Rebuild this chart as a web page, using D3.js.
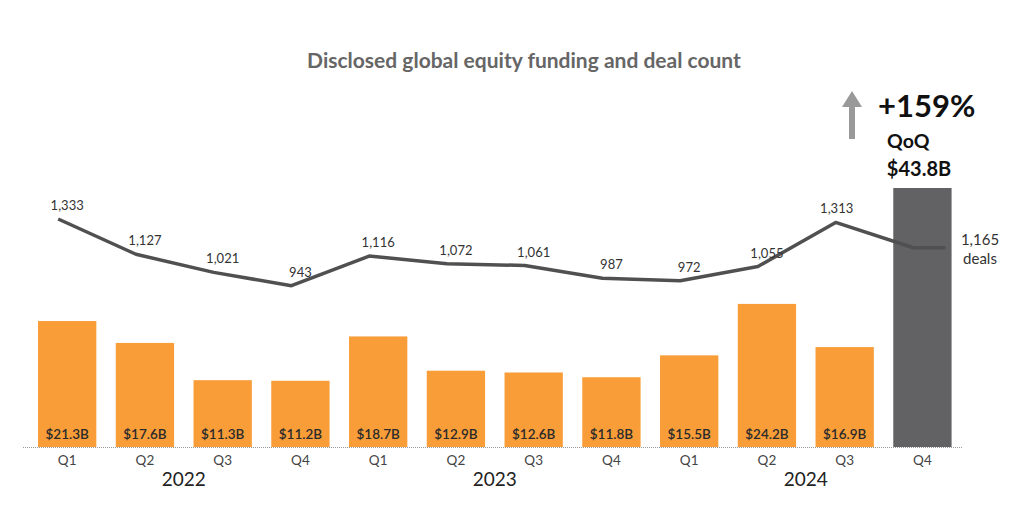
<!DOCTYPE html>
<html>
<head>
<meta charset="utf-8">
<script src="https://cdn.jsdelivr.net/npm/d3@7"></script>
<style>
  html, body { margin: 0; padding: 0; background: #fff; }
  svg { display: block; font-family: Lato, "Open Sans", sans-serif; }
</style>
</head>
<body>
<svg id="chart" width="1024" height="514"></svg>
<script>
// ---- data ----
const quarters = ["Q1","Q2","Q3","Q4","Q1","Q2","Q3","Q4","Q1","Q2","Q3","Q4"];
const years = ["2022","2022","2022","2022","2023","2023","2023","2023","2024","2024","2024","2024"];
const yearLabels = ["2022","2023","2024"];
const funding = [21.3, 17.6, 11.3, 11.2, 18.7, 12.9, 12.6, 11.8, 15.5, 24.2, 16.9, 43.8];
const deals = [1333, 1127, 1021, 943, 1116, 1072, 1061, 987, 972, 1055, 1313, 1165];
const title = "Disclosed global equity funding and deal count";

// ---- layout ----
const svg = d3.select("#chart");
const baseY = 447;
const keys = quarters.map((q, i) => years[i] + " " + q);
const x = d3.scaleBand().domain(keys).range([28.3, 961.3]).paddingInner(0.25).paddingOuter(0.125);
const yBar = d3.scaleLinear().domain([0, 43.8]).range([baseY, 188]);
const yLine = d3.scaleLinear().domain([0, 1333]).range([baseY, 219]);
const cx = i => x(keys[i]) + x.bandwidth() / 2;
const last = funding.length - 1;

// title
svg.append("text").attr("x", 524).attr("y", 68).attr("text-anchor", "middle")
  .attr("font-size", 21).attr("font-weight", 700).attr("fill", "#666").text(title);

// bars
svg.append("g").selectAll("rect").data(funding).join("rect")
  .attr("x", (d, i) => x(keys[i]))
  .attr("width", x.bandwidth())
  .attr("y", d => yBar(d))
  .attr("height", d => baseY - yBar(d))
  .attr("fill", (d, i) => i === last ? "#626265" : "#F99D38");

// bar value labels (not for last)
svg.append("g").selectAll("text").data(funding.slice(0, last)).join("text")
  .attr("x", (d, i) => cx(i))
  .attr("y", baseY - 8)
  .attr("text-anchor", "middle")
  .attr("font-size", 13.5).attr("font-weight", 600).attr("fill", "#2b2b2b")
  .text(d => "$" + d.toFixed(1) + "B");

// baseline
svg.append("line").attr("x1", 23).attr("x2", 963).attr("y1", baseY + 0.5).attr("y2", baseY + 0.5)
  .attr("stroke", "#999").attr("stroke-width", 1).attr("stroke-dasharray", "1,1");

// x axis (quarters)
const xAxis = d3.axisBottom(x).tickSize(0).tickFormat((k, i) => quarters[i]);
const gx = svg.append("g").attr("transform", `translate(0,${baseY})`).call(xAxis);
gx.select(".domain").remove();
gx.selectAll("text").attr("font-size", 13.5).attr("fill", "#444")
  .attr("font-family", "Lato, sans-serif").attr("dy", "0.95em").attr("y", 5);

// years
yearLabels.forEach(yr => {
  const idx = years.map((v, i) => v === yr ? i : -1).filter(i => i >= 0);
  const mid = (cx(idx[1]) + cx(idx[2])) / 2;
  svg.append("text").attr("x", mid).attr("y", 486).attr("text-anchor", "middle")
    .attr("font-size", 19).attr("fill", "#222").text(yr);
});

// deal line
const off = -9;
const pts = deals.map((d, i) => [cx(i) + off, yLine(d)]);
pts.push([cx(last) + 23, yLine(deals[last])]);
svg.append("path").attr("d", d3.line()(pts))
  .attr("fill", "none").attr("stroke", "#505050").attr("stroke-width", 3.5)
  .attr("stroke-linejoin", "round");

// deal labels
svg.append("g").selectAll("text").data(deals.slice(0, last)).join("text")
  .attr("x", (d, i) => cx(i) + (i === 10 ? -8 : 0))
  .attr("y", d => yLine(d) - 9)
  .attr("text-anchor", "middle")
  .attr("font-size", 13).attr("fill", "#333")
  .text(d => d3.format(",")(d));

// last deal label
const lastLbl = svg.append("text").attr("x", 980).attr("y", yLine(deals[last]) - 3)
  .attr("text-anchor", "middle").attr("font-size", 15).attr("fill", "#333");
lastLbl.append("tspan").attr("x", 980).text(d3.format(",")(deals[last]));
lastLbl.append("tspan").attr("x", 980).attr("dy", 19).text("deals");

// annotation: arrow + text
const ax = 852;
svg.append("rect").attr("x", ax - 3).attr("y", 105).attr("width", 6).attr("height", 34).attr("fill", "#999");
svg.append("path").attr("d", `M${ax - 10},107 L${ax},91 L${ax + 10},107 Z`).attr("fill", "#999");
svg.append("text").attr("x", 878).attr("y", 117).attr("font-size", 31).attr("font-weight", 700)
  .attr("fill", "#111").text("+159%");
svg.append("text").attr("x", 887).attr("y", 148).attr("font-size", 19.5).attr("font-weight", 700)
  .attr("fill", "#111").text("QoQ");
svg.append("text").attr("x", 919).attr("y", 176).attr("text-anchor", "middle")
  .attr("font-size", 20).attr("font-weight", 700).attr("fill", "#111")
  .text("$" + funding[last].toFixed(1) + "B");
</script>
</body>
</html>
